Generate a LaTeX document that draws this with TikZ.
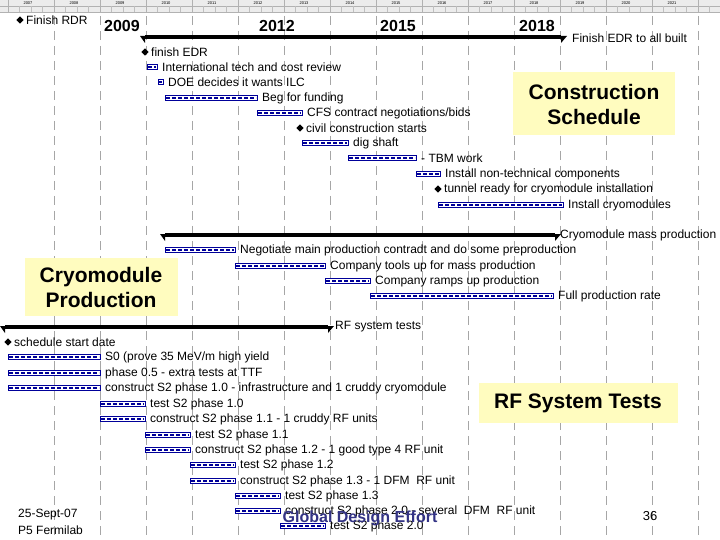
\documentclass[tikz,border=0pt]{standalone}
\usepackage{fontspec}
\usetikzlibrary{shapes.geometric}
\setmainfont{Liberation Sans}
\begin{document}
\begin{tikzpicture}[x=1pt,y=-1pt,
  lbl/.style={anchor=west,inner sep=0pt,font=\fontsize{12}{13}\selectfont},
  yr/.style={anchor=center,inner sep=0pt,font=\fontsize{16}{18}\selectfont\bfseries},
  callout/.style={fill=yellow!25,inner sep=4pt,align=center,font=\fontsize{21}{25}\selectfont\bfseries},
  grid/.style={gray!70,dash pattern=on 9pt off 6pt,line width=0.5pt},
  barbox/.style={draw=blue!60!black,fill=white,line width=0.8pt},
  barfill/.style={blue!60!black,line width=2.5pt,dash pattern=on 4pt off 2pt},
  summ/.style={line width=3.5pt,black},
  ms/.style={fill=black,diamond,inner sep=1.8pt,draw=none}]
\useasboundingbox (0,0) rectangle (720,540);
\fill[white] (0,0) rectangle (720,540);
% header
\fill[gray!15] (0,0) rectangle (720,12);
\draw[gray!60,line width=0.4pt] (0,6) -- (720,6) (0,12) -- (720,12);
\foreach \i in {0,...,15}{\draw[gray!60] ({8+46*\i},0) -- ({8+46*\i},12);
  \foreach \q in {1,2,3}{\draw[gray!50] ({8+46*\i+11.5*\q},6) -- ({8+46*\i+11.5*\q},12);}}
\foreach \i/\y in {0/2007,1/2008,2/2009,3/2010,4/2011,5/2012,6/2013,7/2014,8/2015,9/2016,10/2017,11/2018,12/2019,13/2020,14/2021}
  {\node[font=\fontsize{4}{4}\selectfont,inner sep=0pt] at ({28+46*\i},3) {\y};}
% grid
\foreach \i in {1,...,15}{\draw[grid] ({8+46*\i},16) -- ({8+46*\i},540);}
\newcommand{\task}[5]{\draw[barbox] (#2,#4-2.5) rectangle (#3,#4+2.5);
  \draw[barfill] (#2+1,#4) -- (#3-1,#4);
  \node[lbl] (#1) at (#3+5,#4) {#5};}
\newcommand{\mstone}[4]{\node[ms] (#1m) at (#2,#3) {};\node[lbl] (#1) at (#2+6,#3) {#4};}
% top
\mstone{rdr}{20}{20}{Finish RDR}
\node[yr] (y1) at (122,26) {2009};
\node[yr] (y2) at (277,26) {2012};
\node[yr] (y3) at (398,26) {2015};
\node[yr] (y4) at (537,26) {2018};
\draw[summ] (145,37) -- (561,37);
\fill (145,36) -- (140,36) -- (145,43) -- cycle (561,36) -- (567,36) -- (561,43) -- cycle;
\node[lbl] (fe) at (572,38) {Finish EDR to all built};
\mstone{edr}{145}{52}{finish EDR}
\task{itc}{147}{157}{67}{International tech and cost review}
\task{doe}{158}{163}{82}{DOE decides it wants ILC}
\task{beg}{165}{257}{98}{Beg for funding}
\task{cfs}{257}{302}{113}{CFS contract negotiations/bids}
\mstone{civ}{300}{128}{civil construction starts}
\task{dig}{302}{348}{143}{dig shaft}
\task{tbm}{348}{416}{158}{- TBM work}
\task{ntc}{416}{440}{174}{Install non-technical components}
\mstone{tun}{438}{189}{tunnel ready for cryomodule installation}
\task{icm}{438}{563}{205}{Install cryomodules}
\node[callout,minimum width=162pt,minimum height=63pt] (cs) at (594,104) {Construction\\Schedule};
% cryomodule production
\draw[summ] (165,235) -- (555,235);
\fill (165,234) -- (160,234) -- (165,241) -- cycle (555,234) -- (561,234) -- (555,241) -- cycle;
\node[lbl] (cmp) at (560,235) {Cryomodule mass production};
\task{neg}{165}{235}{250}{Negotiate main production contradt and do some preproduction}
\task{ctu}{235}{325}{266}{Company tools up for mass production}
\task{crp}{325}{370}{281}{Company ramps up production}
\task{fpr}{370}{553}{296}{Full production rate}
\node[callout,minimum width=153pt,minimum height=58pt] (cp) at (101,287) {Cryomodule\\Production};
% RF tests
\draw[summ] (5,327) -- (328,327);
\fill (5,326) -- (0,326) -- (5,333) -- cycle (328,326) -- (334,326) -- (328,333) -- cycle;
\node[lbl] (rfs) at (335,327) {RF system tests};
\mstone{ssd}{8}{342}{schedule start date}
\task{s0}{8}{100}{357}{S0 (prove 35 MeV/m high yield}
\task{p05}{8}{100}{373}{phase 0.5 - extra tests at TTF}
\task{c10}{8}{100}{388}{construct S2 phase 1.0 - infrastructure and 1 cruddy cryomodule}
\task{t10}{100}{145}{404}{test S2 phase 1.0}
\task{c11}{100}{145}{419}{construct S2 phase 1.1 - 1 cruddy RF units}
\task{t11}{145}{190}{435}{test S2 phase 1.1}
\task{c12}{145}{190}{450}{construct S2 phase 1.2 - 1 good type 4 RF unit}
\task{t12}{190}{235}{465}{test S2 phase 1.2}
\task{c13}{190}{235}{481}{construct S2 phase 1.3 - 1 DFM\ \ RF unit}
\task{t13}{235}{280}{496}{test S2 phase 1.3}
\task{c20}{235}{280}{511}{construct S2 phase 2.0 - several\ \ DFM\ \ RF unit}
\task{t20}{280}{325}{526}{test S2 phase 2.0}
\node[callout,minimum width=199pt,minimum height=40pt] (rft) at (578,403) {RF System Tests};
% footer
\node[lbl,font=\fontsize{12}{13}\selectfont] (d1) at (18,515) {25-Sept-07};
\node[lbl,font=\fontsize{12}{13}\selectfont] (d2) at (18,530) {P5 Fermilab};
\node[inner sep=0pt,font=\fontsize{16}{17}\selectfont\bfseries,text=blue!40!black!80] (gde) at (360,518) {Global Design Effort};
\node[inner sep=0pt,font=\fontsize{13}{14}\selectfont] (pg) at (650,516) {36};
\end{tikzpicture}
\end{document}
